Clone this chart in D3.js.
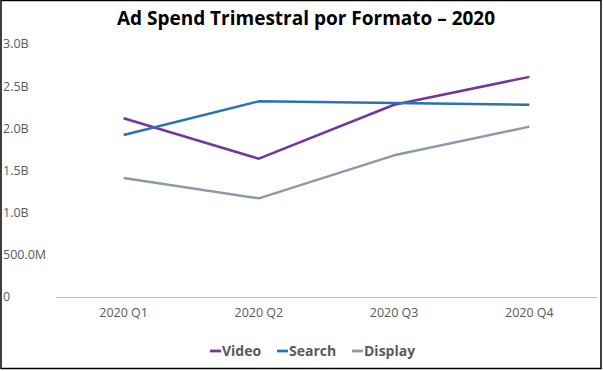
<!DOCTYPE html>
<html>
<head>
<meta charset="utf-8">
<script src="https://cdn.jsdelivr.net/npm/d3@7"></script>
<style>
  body { margin: 0; background: #fff; }
  text { font-family: "Open Sans", "Liberation Sans", sans-serif; }
</style>
</head>
<body>
<div class="chart"></div>
<script>
var quarters = ['2020 Q1', '2020 Q2', '2020 Q3', '2020 Q4'];
var seriesNames = ['Video', 'Search', 'Display'];
var video = [2.12e9, 1.64e9, 2.28e9, 2.61e9];
var search = [1.92e9, 2.32e9, 2.30e9, 2.28e9];
var display = [1.41e9, 1.17e9, 1.68e9, 2.02e9];
var yTicks = [0, 0.5e9, 1.0e9, 1.5e9, 2.0e9, 2.5e9, 3.0e9];
var colors = ['#7435A0', '#2A72B2', '#8F98AA'];

var W = 603, H = 371;
var margin = {top: 44, right: 6, bottom: 74, left: 56};
var width = W - margin.left - margin.right;
var height = H - margin.top - margin.bottom;

function fmt(v) {
    if (v === 0) return '0';
    if (v >= 1e9) return (v / 1e9).toFixed(1) + 'B';
    return (v / 1e6).toFixed(1) + 'M';
}

var svg = d3.select('.chart').append('svg')
    .attr('width', W)
    .attr('height', H);

// outer frame
svg.append('rect')
    .attr('x', 1).attr('y', 0.5)
    .attr('width', W - 3).attr('height', H - 3)
    .attr('fill', 'none')
    .attr('stroke', '#000')
    .attr('stroke-width', 1.5);

svg.append('text')
    .attr('x', 306)
    .attr('y', 25)
    .attr('text-anchor', 'middle')
    .style('font-size', '19px')
    .style('font-weight', 'bold')
    .attr('fill', '#000')
    .text('Ad Spend Trimestral por Formato \u2013 2020');

var g = svg.append('g')
    .attr('transform', `translate(${margin.left},${margin.top})`);

var xScale = d3.scalePoint()
    .domain(quarters)
    .range([0, width])
    .padding(0.5);

var yScale = d3.scaleLinear()
    .domain([0, 3e9])
    .range([height, 0]);

// y labels (no axis line, no gridlines)
g.selectAll('.ylab')
    .data(yTicks)
    .enter().append('text')
    .attr('class', 'ylab')
    .attr('x', -53)
    .attr('y', d => yScale(d))
    .attr('dy', '0.35em')
    .attr('fill', '#595959')
    .style('font-size', '12.5px')
    .text(fmt);

// x axis line
g.append('line')
    .attr('x1', 0).attr('x2', width)
    .attr('y1', height + 0.5).attr('y2', height + 0.5)
    .attr('stroke', '#bfbfbf')
    .attr('stroke-width', 1);

g.selectAll('.xlab')
    .data(quarters)
    .enter().append('text')
    .attr('class', 'xlab')
    .attr('x', d => xScale(d))
    .attr('y', height + 20)
    .attr('text-anchor', 'middle')
    .attr('fill', '#595959')
    .style('font-size', '12.5px')
    .text(d => d);

var allSeries = [video, search, display];
var line = d3.line()
    .x((d, i) => xScale(quarters[i]))
    .y(d => yScale(d));

g.selectAll('.series')
    .data(allSeries)
    .enter().append('path')
    .attr('class', 'series')
    .attr('d', line)
    .attr('fill', 'none')
    .attr('stroke', (d, i) => colors[i])
    .attr('stroke-width', 2.5)
    .attr('stroke-linejoin', 'round');

// legend
var legendX = [210, 277, 352];
var legend = svg.selectAll('.legend')
    .data(seriesNames)
    .enter().append('g')
    .attr('class', 'legend')
    .attr('transform', (d, i) => `translate(${legendX[i]},351)`);

legend.append('line')
    .attr('x1', 0).attr('x2', 11)
    .attr('y1', 0).attr('y2', 0)
    .attr('stroke', (d, i) => colors[i])
    .attr('stroke-width', 2.75);

legend.append('text')
    .attr('x', 12)
    .attr('y', 0)
    .attr('dy', '0.35em')
    .attr('fill', '#595959')
    .style('font-size', '14px')
    .style('font-weight', 'bold')
    .text(d => d);
</script>
</body>
</html>
